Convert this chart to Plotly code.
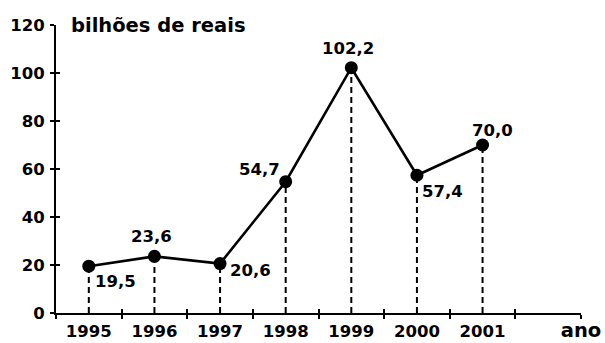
import plotly.graph_objects as go

# Receita anual (bilhões de reais)
anos = ["1995", "1996", "1997", "1998", "1999", "2000", "2001"]
valores = [19.5, 23.6, 20.6, 54.7, 102.2, 57.4, 70.0]
y_ticks = [0, 20, 40, 60, 80, 100, 120]

# label offsets (pixels) relative to each point: (xshift, yshift)
label_offsets = [(27, -15), (-3, 20), (30, -7), (-26, 12), (-3, 19), (26, -16), (10, 15)]

FONT = "DejaVu Sans"
NUM_SIZE = 16.5
TXT_SIZE = 19.5

xs = list(range(len(anos)))
half_ticks = [i - 0.5 for i in range(len(anos) + 2)]

fig = go.Figure()

# dashed drop lines from each point down to the x axis
drop_x, drop_y = [], []
for x, v in zip(xs, valores):
    drop_x += [x, x, None]
    drop_y += [0, v, None]
fig.add_trace(go.Scatter(
    x=drop_x, y=drop_y, mode="lines",
    line=dict(color="black", width=2, dash="6px,4px"),
    hoverinfo="skip", showlegend=False,
))

# main series
fig.add_trace(go.Scatter(
    x=xs, y=valores, mode="lines+markers",
    line=dict(color="black", width=2.6),
    marker=dict(color="black", size=13),
    showlegend=False,
))

# empty trace carrying the overlay axes (inner half of the crossing ticks)
fig.add_trace(go.Scatter(x=[None], y=[None], xaxis="x2", yaxis="y2",
                         showlegend=False, hoverinfo="skip"))

for x, v, (dx, dy) in zip(xs, valores, label_offsets):
    fig.add_annotation(
        x=x, y=v, text=f"{v:.1f}".replace(".", ","),
        showarrow=False, xanchor="center", yanchor="middle",
        xshift=dx, yshift=dy,
        font=dict(family=FONT, size=NUM_SIZE, color="black", weight="bold"),
    )

fig.add_annotation(
    xref="paper", yref="y", x=0.025, y=120, text="bilhões de reais",
    showarrow=False, xanchor="left", yanchor="middle", yshift=0,
    font=dict(family=FONT, size=TXT_SIZE, color="black", weight="bold"),
)

x_range = [-0.5, len(anos) + 0.5]
y_range = [0, 120]

fig.update_layout(
    width=605, height=343,
    margin=dict(l=56, r=24, t=25, b=30),
    paper_bgcolor="white", plot_bgcolor="white",
    font=dict(family=FONT, size=NUM_SIZE, color="black", weight="bold"),
    xaxis=dict(
        range=x_range, showgrid=False, zeroline=False, automargin=False,
        showline=True, linecolor="black", linewidth=2,
        tickmode="array",
        tickvals=xs + [len(anos) + 0.5],
        ticktext=anos + [f"<span style='font-size:{TXT_SIZE}px'>ano</span>"],
        ticks="", ticklabelstandoff=2,
        minor=dict(tickmode="array", tickvals=half_ticks, ticks="outside",
                   ticklen=4, tickwidth=2, tickcolor="black", showgrid=False),
    ),
    yaxis=dict(
        range=y_range, showgrid=False, zeroline=False, automargin=False,
        showline=True, linecolor="black", linewidth=2,
        tickmode="array", tickvals=y_ticks,
        ticks="outside", ticklen=4, tickwidth=2, tickcolor="black",
        ticklabelstandoff=2,
    ),
    xaxis2=dict(
        overlaying="x", anchor="y2", range=x_range, showgrid=False,
        zeroline=False, showline=False, showticklabels=False, automargin=False,
        tickmode="array", tickvals=half_ticks,
        ticks="inside", ticklen=4, tickwidth=2, tickcolor="black",
    ),
    yaxis2=dict(
        overlaying="y", anchor="x2", side="left", range=y_range,
        showgrid=False, zeroline=False, showline=False, showticklabels=False,
        automargin=False,
        tickmode="array", tickvals=y_ticks,
        ticks="inside", ticklen=4, tickwidth=2, tickcolor="black",
    ),
)

fig.write_html("out.html")
